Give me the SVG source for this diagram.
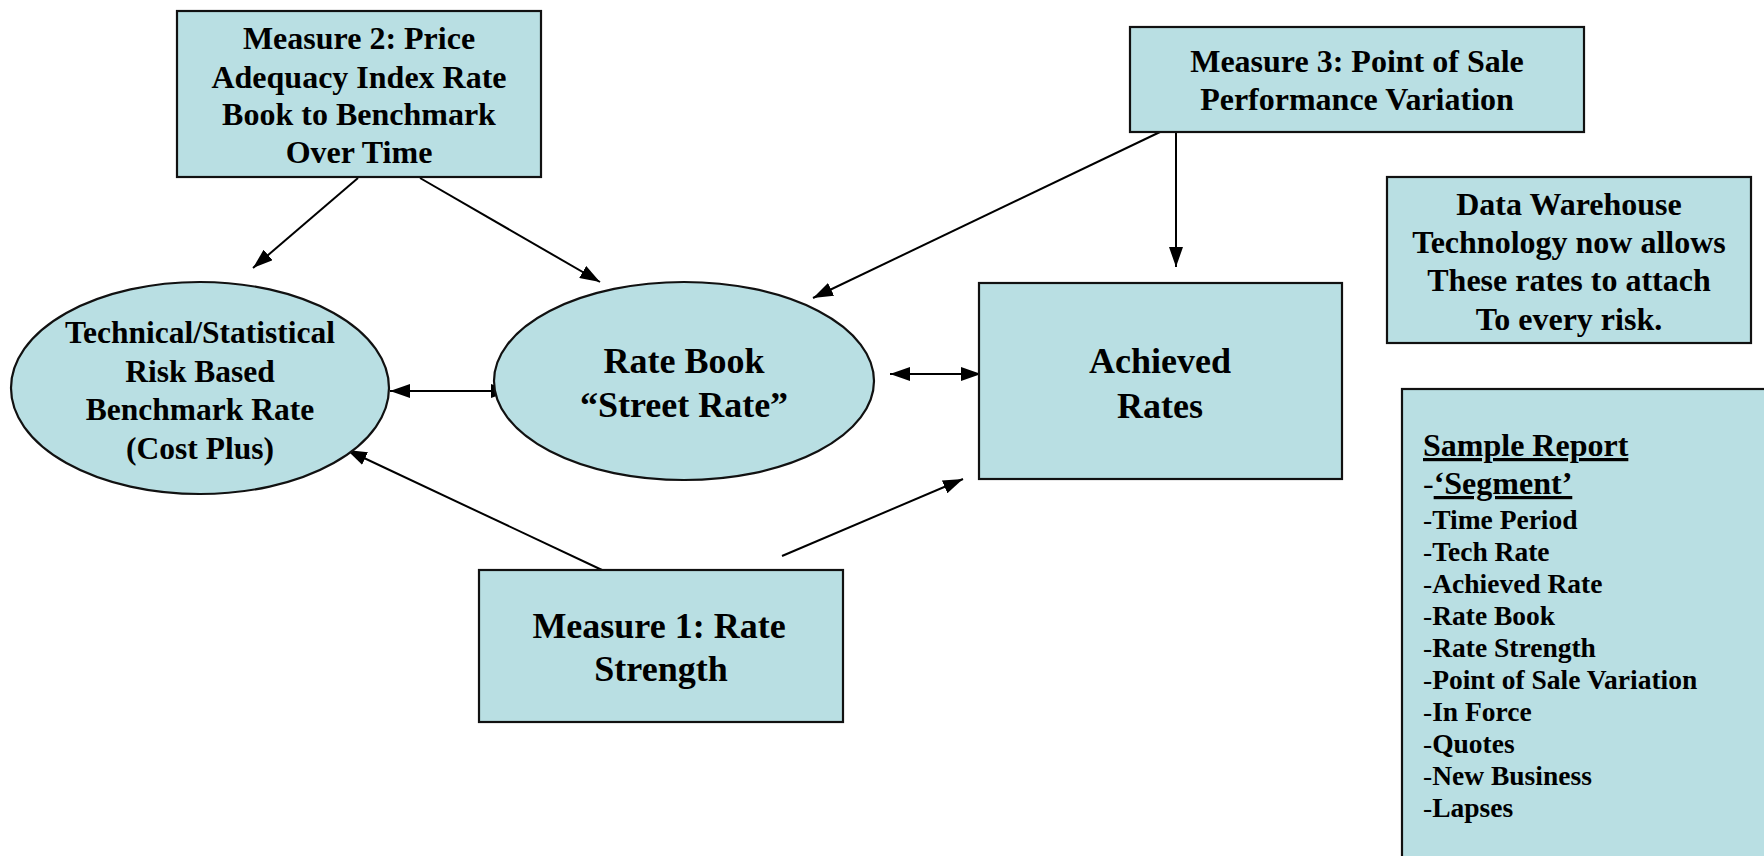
<svg xmlns="http://www.w3.org/2000/svg" width="1764" height="856" viewBox="0 0 1764 856">
<style>
.box{fill:#B9DFE3;stroke:#111;stroke-width:2.2}
.t{font-family:"Liberation Serif","Times New Roman",serif;font-weight:bold;fill:#000;text-anchor:middle}
.l{font-family:"Liberation Serif","Times New Roman",serif;font-weight:bold;fill:#000}
.c{stroke:#000;stroke-width:2;fill:none}
.h{font-weight:normal}
</style>
<defs>
<marker id="ah" viewBox="0 0 20 14" refX="20" refY="7" markerWidth="20" markerHeight="14" markerUnits="userSpaceOnUse" orient="auto-start-reverse">
<path d="M0,0 L20,7 L0,14 z" fill="#000"/>
</marker>
</defs>
<rect width="1764" height="856" fill="#fff"/>
<g id="connectors">
<path class="c" d="M358,178 L253,268" marker-end="url(#ah)"/>
<path class="c" d="M420,178 L600,282" marker-end="url(#ah)"/>
<path class="c" d="M390,391 L511,391" marker-start="url(#ah)" marker-end="url(#ah)"/>
<path class="c" d="M890,374 L981,374" marker-start="url(#ah)" marker-end="url(#ah)"/>
<path class="c" d="M1160,132 L813,298" marker-end="url(#ah)"/>
<path class="c" d="M1176,132 L1176,267" marker-end="url(#ah)"/>
<path class="c" d="M602,570 L347,450" marker-end="url(#ah)"/>
<path class="c" d="M782,556 L963,479" marker-end="url(#ah)"/>
</g>
<g id="measure2">
<rect class="box" x="177" y="11" width="364" height="166"/>
<text class="t" font-size="32"><tspan x="359" y="49">Measure 2: Price</tspan><tspan x="359" y="88">Adequacy Index Rate</tspan><tspan x="359" y="125">Book to Benchmark</tspan><tspan x="359" y="163">Over Time</tspan></text>
</g>
<g id="measure3">
<rect class="box" x="1130" y="27" width="454" height="105"/>
<text class="t" font-size="32"><tspan x="1357" y="72">Measure 3: Point of Sale</tspan><tspan x="1357" y="110">Performance Variation</tspan></text>
</g>
<g id="datawarehouse">
<rect class="box" x="1387" y="177" width="364" height="166"/>
<text class="t" font-size="32"><tspan x="1569" y="215">Data Warehouse</tspan><tspan x="1569" y="253">Technology now allows</tspan><tspan x="1569" y="291">These rates to attach</tspan><tspan x="1569" y="330">To every risk.</tspan></text>
</g>
<g id="benchmark">
<ellipse class="box" cx="200" cy="388" rx="189" ry="106"/>
<text class="t" font-size="31.5"><tspan x="200" y="343">Technical/Statistical</tspan><tspan x="200" y="382">Risk Based</tspan><tspan x="200" y="420">Benchmark Rate</tspan><tspan x="200" y="459">(Cost Plus)</tspan></text>
</g>
<g id="ratebook">
<ellipse class="box" cx="684" cy="381" rx="190" ry="99"/>
<text class="t" font-size="36"><tspan x="684" y="373">Rate Book</tspan><tspan x="684" y="417">“Street Rate”</tspan></text>
</g>
<g id="achieved">
<rect class="box" x="979" y="283" width="363" height="196"/>
<text class="t" font-size="36"><tspan x="1160" y="373">Achieved</tspan><tspan x="1160" y="418">Rates</tspan></text>
</g>
<g id="measure1">
<rect class="box" x="479" y="570" width="364" height="152"/>
<text class="t" font-size="36"><tspan x="659" y="638">Measure 1: Rate</tspan><tspan x="661" y="681">Strength</tspan></text>
</g>
<g id="samplereport">
<rect class="box" x="1402" y="389" width="400" height="500"/>
<text class="l" font-size="32" x="1423" y="456" text-decoration="underline">Sample Report</text>
<text class="l" font-size="32" x="1423" y="494"><tspan class="h">-</tspan><tspan text-decoration="underline">‘Segment’</tspan></text>
<text class="l" font-size="27.5">
<tspan x="1423" y="529"><tspan class="h">-</tspan>Time Period</tspan>
<tspan x="1423" y="561"><tspan class="h">-</tspan>Tech Rate</tspan>
<tspan x="1423" y="593"><tspan class="h">-</tspan>Achieved Rate</tspan>
<tspan x="1423" y="625"><tspan class="h">-</tspan>Rate Book</tspan>
<tspan x="1423" y="657"><tspan class="h">-</tspan>Rate Strength</tspan>
<tspan x="1423" y="689"><tspan class="h">-</tspan>Point of Sale Variation</tspan>
<tspan x="1423" y="721"><tspan class="h">-</tspan>In Force</tspan>
<tspan x="1423" y="753"><tspan class="h">-</tspan>Quotes</tspan>
<tspan x="1423" y="785"><tspan class="h">-</tspan>New Business</tspan>
<tspan x="1423" y="817"><tspan class="h">-</tspan>Lapses</tspan>
</text>
</g>
</svg>
